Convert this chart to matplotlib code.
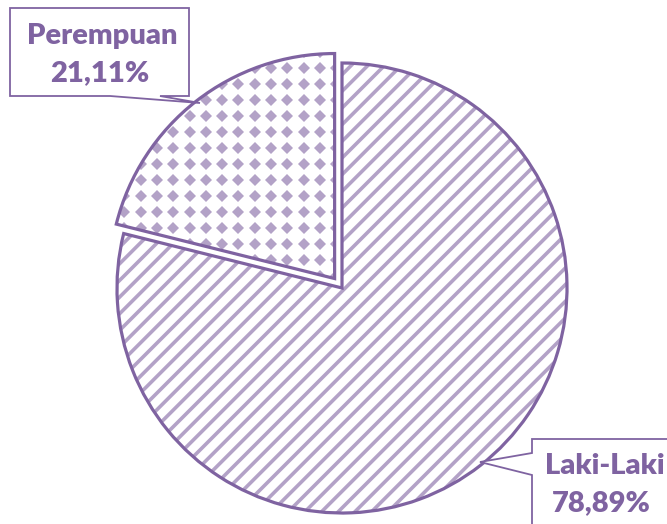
import numpy as np
import matplotlib
matplotlib.use("Agg")
from matplotlib import pyplot as plt
from matplotlib.patches import Wedge, Polygon

labels = ["Perempuan", "Laki-Laki"]
values = [21.11, 78.89]

W, H = 667, 524
edge = "#7F63A1"
light = "#B3A2C7"

plt.rcParams["hatch.linewidth"] = 2.6

fig = plt.figure(figsize=(W / 100, H / 100), dpi=100)
ax = fig.add_axes([0, 0, 1, 1])


def px(x, y):
    # pixel coords (top-left origin) -> data coords
    return (x, H - y)


cx, cy = px(342, 288)
wedges, _ = ax.pie(values, startangle=90, counterclock=True, center=(cx, cy),
                   radius=225, explode=[12, 0],
                   wedgeprops=dict(linewidth=0, facecolor="white"))

# Laki-Laki: diagonal hatch
laki = wedges[1]
laki.set_hatch("//")
laki.set_edgecolor(light)
laki.set_zorder(1)
ax.add_patch(Wedge(laki.center, laki.r, laki.theta1, laki.theta2,
                   facecolor="none", edgecolor=edge, linewidth=2.3, zorder=2))

# Perempuan: diamond pattern
per = wedges[0]
per.set_zorder(3)
gx = np.arange(108, 345, 16.3)
gy = np.arange(52, 290, 16)
xx, yy = np.meshgrid(gx, gy)
dots, = ax.plot(xx.ravel(), H - yy.ravel(), linestyle="none", marker="D",
                markersize=6.4, markeredgewidth=0, color=light, zorder=4)
dots.set_clip_path(per)
ax.add_patch(Wedge(per.center, per.r, per.theta1, per.theta2,
                   facecolor="none", edgecolor=edge, linewidth=2.3, zorder=5))

# callout boxes
box_per = [(10, 8), (189, 8), (189, 96), (160, 96), (200, 103), (110, 96), (10, 96)]
box_laki = [(532, 540), (532, 475), (480, 462), (532, 453), (532, 439), (690, 439), (690, 540)]
for pts in (box_per, box_laki):
    ax.add_patch(Polygon([px(x, y) for x, y in pts], closed=True, facecolor="white",
                         edgecolor=edge, linewidth=1.3, zorder=6))

font = dict(family=["Lato", "DejaVu Sans"], fontweight="heavy", fontsize=21,
            color=edge, ha="center", va="center", zorder=7)
pct = [f"{v:.2f}".replace(".", ",") + "%" for v in values]
ax.text(*px(102, 36), labels[0], **font)
ax.text(*px(100, 73), pct[0], **font)
ax.text(*px(605, 466), labels[1], **font)
ax.text(*px(601, 503), pct[1], **font)

ax.set_xlim(0, W)
ax.set_ylim(0, H)
ax.set_aspect("auto")
ax.axis("off")

fig.savefig("out.png", dpi=100)
